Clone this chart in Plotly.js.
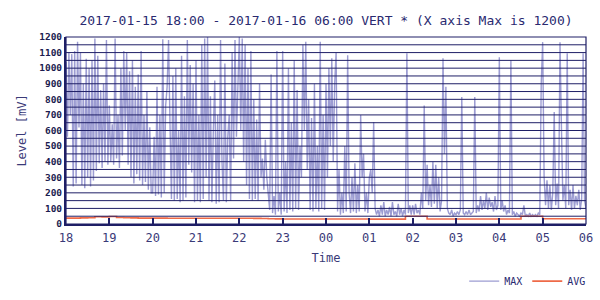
<!DOCTYPE html>
<html>
<head>
<meta charset="utf-8">
<script src="https://cdn.plot.ly/plotly-3.0.1.min.js"></script>
<style>
  html, body { margin: 0; padding: 0; background: #ffffff; }
  #chart { width: 600px; height: 300px; }
</style>
</head>
<body>
<div id="chart"></div>
<script>
// ---- Data ----
// MAX level [mV], 2-minute samples, one array per hour starting at that hour
var max18 = [1040, 560, 1100, 700, 1090, 240, 1110, 260, 1170, 620, 1100, 250, 900, 230, 1060, 300, 1000, 240, 1050, 280, 1190, 340, 1080, 390, 860, 360, 900, 400, 1180, 380];
var max19 = [760, 400, 640, 380, 1190, 420, 700, 360, 1000, 440, 1110, 600, 1100, 380, 980, 300, 1050, 260, 880, 320, 960, 280, 1110, 250, 700, 270, 850, 220, 620, 200];
var max20 = [200, 560, 180, 880, 190, 700, 170, 1185, 200, 760, 880, 1180, 640, 160, 950, 150, 1000, 160, 600, 140, 1080, 150, 820, 170, 1180, 380, 1020, 330, 900, 140];
var max21 = [1050, 150, 700, 140, 1150, 160, 1190, 300, 1200, 150, 820, 140, 600, 920, 130, 700, 140, 1180, 400, 150, 1030, 140, 560, 700, 150, 1100, 420, 1180, 560, 900];
var max22 = [1200, 600, 1190, 400, 1150, 250, 1000, 160, 1110, 150, 800, 160, 670, 150, 900, 300, 420, 220, 540, 300, 200, 90, 960, 70, 180, 60, 1110, 80, 200, 60];
var max23 = [1110, 80, 400, 70, 1000, 90, 650, 80, 1050, 100, 860, 90, 500, 300, 1150, 600, 1170, 350, 800, 90, 680, 80, 900, 100, 500, 80, 1170, 100, 700, 90];
var max00 = [900, 300, 1000, 500, 1064, 400, 900, 1100, 80, 350, 60, 200, 70, 500, 80, 1083, 200, 70, 300, 80, 390, 70, 250, 80, 700, 300, 450, 80, 200, 70];
var max01 = [300, 350, 200, 655, 100, 60, 90, 50, 120, 60, 140, 50, 90, 60, 110, 50, 140, 60, 80, 50, 130, 60, 100, 50, 90, 60, 1095, 70, 120, 60];
var max02 = [120, 60, 130, 70, 90, 60, 200, 100, 760, 150, 380, 120, 250, 110, 400, 130, 380, 100, 300, 80, 150, 1064, 450, 880, 100, 70, 60, 90, 50, 70];
var max03 = [60, 80, 60, 90, 815, 70, 60, 80, 60, 90, 60, 70, 80, 815, 70, 120, 80, 180, 90, 150, 100, 200, 90, 170, 110, 140, 80, 180, 90, 120];
var max04 = [1070, 90, 150, 80, 120, 60, 90, 70, 1050, 60, 80, 50, 70, 60, 50, 70, 60, 120, 50, 60, 50, 70, 50, 60, 50, 60, 50, 70, 60, 900];
var max05 = [1167, 300, 120, 280, 100, 250, 90, 200, 718, 120, 260, 100, 1167, 620, 150, 250, 100, 1095, 120, 220, 90, 250, 100, 180, 120, 220, 90, 160, 1095, 150];
var maxEnd = [100];

// AVG level [mV], 10-minute samples, one array per hour
var avg18 = [38, 38, 39, 40, 47, 46];
var avg19 = [48, 42, 40, 39, 38, 38];
var avg20 = [38, 38, 37, 37, 37, 37];
var avg21 = [37, 37, 37, 37, 37, 37];
var avg22 = [37, 37, 36, 35, 34, 33];
var avg23 = [32, 32, 32, 32, 32, 32];
var avg00 = [32, 32, 32, 32, 32, 32];
var avg01 = [31, 31, 31, 31, 31, 50];
var avg02 = [50, 50, 32, 32, 32, 32];
var avg03 = [32, 32, 32, 32, 32, 32];
var avg04 = [32, 32, 32, 50, 50, 50];
var avg05 = [34, 34, 34, 34, 34, 34];
var avgEnd = [34];

var startTime = '2017-01-15T18:00:00';
var endTime = '2017-01-16T06:00:00';
var chartTitle = '2017-01-15 18:00 - 2017-01-16 06:00 VERT * (X axis Max is 1200)';
var seriesNames = ['MAX', 'AVG'];

// ---- Build series ----
var maxVals = [].concat(max18, max19, max20, max21, max22, max23, max00, max01, max02, max03, max04, max05, maxEnd);
var avgVals = [].concat(avg18, avg19, avg20, avg21, avg22, avg23, avg00, avg01, avg02, avg03, avg04, avg05, avgEnd);

function pad(n) { return (n < 10 ? '0' : '') + n; }
function timeStamps(count, stepMin) {
  var t0 = new Date(startTime + 'Z').getTime();
  var out = [];
  for (var i = 0; i < count; i++) {
    var d = new Date(t0 + i * stepMin * 60000);
    out.push(d.getUTCFullYear() + '-' + pad(d.getUTCMonth() + 1) + '-' + pad(d.getUTCDate()) + ' ' +
             pad(d.getUTCHours()) + ':' + pad(d.getUTCMinutes()));
  }
  return out;
}

var navy = '#1f1f66';
var font = 'DejaVu Sans Mono, Liberation Mono, monospace';

var traces = [
  { x: timeStamps(maxVals.length, 2), y: maxVals, name: seriesNames[0], type: 'scatter', mode: 'lines',
    line: { color: '#9c9cd2', width: 1.4 } },
  { x: timeStamps(avgVals.length, 10), y: avgVals, name: seriesNames[1], type: 'scatter', mode: 'lines',
    line: { color: '#ee6a48', width: 1.6, shape: 'hv' } }
];

// horizontal grid drawn above the data, as in the reference
var shapes = [];
for (var v = 50; v < 1200; v += 50) {
  shapes.push({ type: 'line', xref: 'paper', x0: 0, x1: 1, yref: 'y', y0: v, y1: v,
                layer: 'above', line: { color: navy, width: 1 } });
}
shapes.push({ type: 'rect', xref: 'paper', yref: 'paper', x0: 0, x1: 1, y0: 0, y1: 1,
              layer: 'above', line: { color: navy, width: 1.2 } });

var layout = {
  width: 600, height: 300,
  margin: { l: 66, r: 14, t: 37, b: 76, autoexpand: false },
  paper_bgcolor: '#ffffff', plot_bgcolor: '#ffffff',
  showlegend: true,
  title: { text: chartTitle, font: { family: font, size: 13, color: '#2a2a70' },
           xref: 'paper', x: 0.5, xanchor: 'center', yref: 'container', y: 0.932, yanchor: 'middle' },
  xaxis: {
    type: 'date', range: [startTime.replace('T', ' '), endTime.replace('T', ' ')],
    dtick: 3600000, tickformat: '%H', automargin: false,
    ticks: 'inside', ticklen: 6, tickwidth: 2, tickcolor: navy,
    showline: true, linecolor: navy, linewidth: 2, showgrid: false, zeroline: false,
    layer: 'above traces', ticklabelstandoff: 2,
    tickfont: { family: font, size: 12, color: '#3a3a78' },
    title: { text: 'Time', font: { family: font, size: 12, color: '#3a3a78' }, standoff: 9 }
  },
  yaxis: {
    range: [0, 1200], dtick: 100, tick0: 0, automargin: false,
    ticks: '', showline: true, linecolor: navy, linewidth: 2, showgrid: false, zeroline: false,
    layer: 'above traces',
    tickfont: { family: font, size: 9.5, color: '#1c1c50', weight: 'bold' },
    title: { text: 'Level [mV]', font: { family: font, size: 12, color: '#3a3a78' }, standoff: 10 }
  },
  legend: {
    orientation: 'h', xref: 'paper', x: 1.01, xanchor: 'right', yref: 'container', y: 0.063, yanchor: 'middle',
    font: { family: font, size: 10, color: '#2a2a70' }, itemwidth: 30, bgcolor: 'rgba(0,0,0,0)'
  },
  shapes: shapes,
  hovermode: false
};

Plotly.newPlot('chart', traces, layout, { displayModeBar: false, staticPlot: true });
</script>
</body>
</html>
